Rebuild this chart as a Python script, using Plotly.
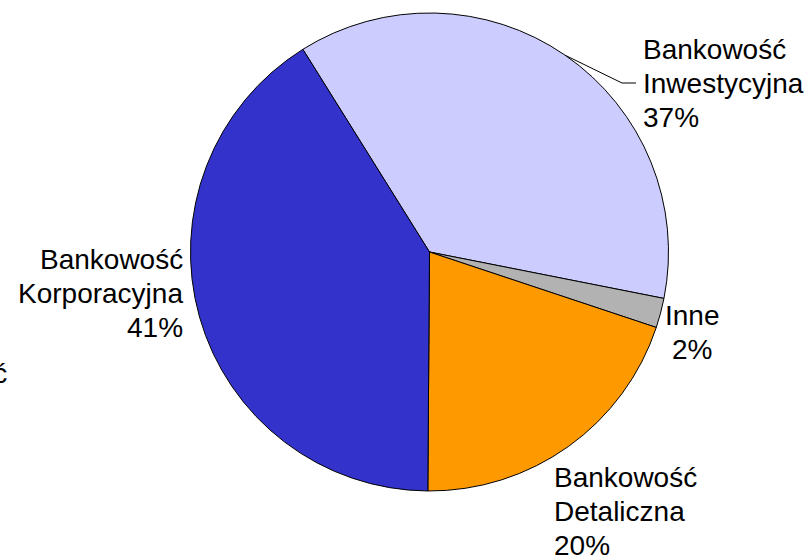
import math
import plotly.graph_objects as go

# Revenue split by business line
segments = ["Bankowość<br>Inwestycyjna", "Inne", "Bankowość<br>Detaliczna", "Bankowość<br>Korporacyjna"]
shares = [37, 2, 20, 41]
colors = ["#CCCCFF", "#B2B2B2", "#FF9900", "#3333CC"]

W, H = 807, 559
START_ROT = -32.0          # degrees, clockwise from 12 o'clock
CX, CY, R = 429.5, 252.0, 239.0   # pie centre / radius in pixels
FONT_SIZE = 28
LINE_STEP = 34             # baseline-to-baseline distance in pixels


def px(x):
    return x / W


def py(y):
    return 1 - y / H


fig = go.Figure(
    go.Pie(
        labels=segments,
        values=shares,
        sort=False,
        direction="clockwise",
        rotation=START_ROT,
        marker=dict(colors=colors, line=dict(color="black", width=1)),
        textinfo="none",
        hoverinfo="label+percent",
        showlegend=False,
        domain=dict(x=[px(CX - R), px(CX + R)], y=[py(CY + R), py(CY - R)]),
    )
)

font = dict(family="Liberation Sans, Arial, sans-serif", size=FONT_SIZE, color="black")


def add_lines(lines, x, first_baseline, xanchor):
    # one annotation per text line so the line pitch can be set freely
    for i, line in enumerate(lines):
        base = first_baseline + i * LINE_STEP
        fig.add_annotation(
            x=px(x), y=py(base - 0.35 * FONT_SIZE), xref="paper", yref="paper",
            text=line, showarrow=False, xanchor=xanchor, yanchor="middle",
            font=font,
        )


# label placement: (anchor x px, first baseline px, xanchor)
placements = [
    (641, 59, "left"),
    (692, 325, "center"),
    (552, 487, "left"),
    (185, 269, "right"),
]
for name, val, (lx, lb, xa) in zip(segments, shares, placements):
    add_lines(name.split("<br>") + [f"{val}%"], lx, lb, xa)

# partially visible label at the left edge
add_lines(["Bankowość"], 9, 383, "right")

# leader line for the first slice, starting at its mid-angle on the rim
total = sum(shares)
mid = math.radians(START_ROT + 360 * shares[0] / total / 2)
ex, ey = CX + R * math.sin(mid), CY - R * math.cos(mid)
fig.add_shape(
    type="path", xref="paper", yref="paper",
    path=f"M {px(ex)} {py(ey)} L {px(622)} {py(83)} L {px(636)} {py(83)}",
    line=dict(color="black", width=1),
)

fig.update_layout(
    width=W, height=H,
    margin=dict(l=0, r=0, t=0, b=0),
    paper_bgcolor="white", plot_bgcolor="white",
)

fig.write_html("out.html")
